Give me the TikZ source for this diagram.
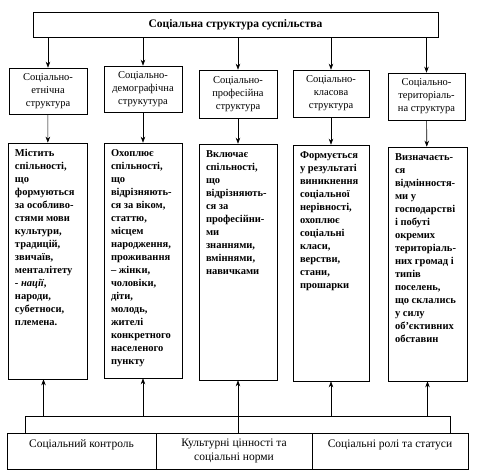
\documentclass[tikz,border=0pt]{standalone}
\usepackage{fontspec}
\setmainfont{Liberation Serif}
\usetikzlibrary{arrows.meta,positioning}

\begin{document}
\begin{tikzpicture}
[x=1pt, y=-1pt, draw=black, line width=0.6pt, >={Stealth[length=6pt,width=4.5pt]},
whole/.style={rectangle, draw, inner sep=0pt, minimum width=405pt, minimum height=25pt, font=\fontsize{11.5}{13}\selectfont\bfseries},
kind/.style={rectangle, draw, inner sep=0pt, align=center, font=\fontsize{10.5}{13}\selectfont},
detail/.style={rectangle, draw, inner sep=0pt},
detailtext/.style={anchor=north west, inner sep=0pt, align=left, font=\fontsize{10.5}{13}\selectfont\bfseries},
factor/.style={rectangle, draw, inner sep=0pt, minimum height=36pt, align=center, font=\fontsize{11.5}{14}\selectfont}]

\useasboundingbox (0,0) rectangle (477,476);

\node[whole] (society) at (235.5,24.5) {Соціальна структура суспільства};

% structure kinds
\node[kind, minimum width=78pt, minimum height=46pt] (ethnic) at (48,91) {Соціально-\\етнічна\\структура}
  edge [<-] (society.south -| ethnic.north);
\node[kind, minimum width=78pt, minimum height=46pt] (demo) at (143,89) {Соціально-\\демографічна\\струкутура}
  edge [<-] (society.south -| demo.north);
\node[kind, minimum width=78pt, minimum height=48pt] (prof) at (238,94) {Соціально-\\професійна\\структура}
  edge [<-] (society.south -| prof.north);
\node[kind, minimum width=76pt, minimum height=47pt] (class) at (331,93.5) {Соціально-\\класова\\структура}
  edge [<-] (society.south -| class.north);
\node[kind, minimum width=77pt, minimum height=47pt] (terr) at (426.5,96.5) {Соціально-\\територіаль-\\на структура}
  edge [<-] (society.south -| terr.north);

% descriptions
\node[detail, minimum width=79pt, minimum height=236pt] (ethnicd) at (47.5,261) {}
  edge [<-] (ethnic);
\node[detailtext] (ethnict) at ([xshift=7pt,yshift=-6.5pt]ethnicd.north west)
  {Містить\\спільності,\\що\\формуються\\за особливо-\\стями мови\\культури,\\традицій,\\звичаїв,\\менталітету\\- \textit{нації},\\народи,\\субетноси,\\племена.};
\node[detail, minimum width=78pt, minimum height=235pt] (demod) at (143,260.5) {}
  edge [<-] (demo);
\node[detailtext] (demot) at ([xshift=7pt,yshift=-6.5pt]demod.north west)
  {Охоплює\\спільності,\\що\\відрізняють-\\ся за віком,\\статтю,\\місцем\\народження,\\проживання\\– жінки,\\чоловіки,\\діти,\\молодь,\\жителі\\конкретного\\населеного\\пункту};
\node[detail, minimum width=78pt, minimum height=236pt] (profd) at (238,262) {}
  edge [<-] (prof);
\node[detailtext] (proft) at ([xshift=7pt,yshift=-6.5pt]profd.north west)
  {Включає\\спільності,\\що\\відрізняють-\\ся за\\професійни-\\ми\\знаннями,\\вміннями,\\навичками};
\node[detail, minimum width=76pt, minimum height=236pt] (classd) at (331,263) {}
  edge [<-] (class);
\node[detailtext] (classt) at ([xshift=7pt,yshift=-6.5pt]classd.north west)
  {Формується\\у результаті\\виникнення\\соціальної\\нерівності,\\охоплює\\соціальні\\класи,\\верстви,\\стани,\\прошарки};
\node[detail, minimum width=79pt, minimum height=234pt] (terrd) at (427.5,264) {}
  edge [<-] (terr);
\node[detailtext] (terrt) at ([xshift=7pt,yshift=-6.5pt]terrd.north west)
  {Визначаєть-\\ся\\відмінностя-\\ми у\\господарстві\\і побуті\\окремих\\територіаль-\\них громад і\\типів\\поселень,\\що склались\\у силу\\об'єктивних\\обставин};

% regulating factors
\node[factor, minimum width=149pt, text depth=14pt] (control) at (81.5,451) {Соціальний контроль};
\node[factor, minimum width=156pt] (values) at (234,451) {Культурні цінності та\\соціальні норми};
\node[factor, minimum width=156pt, text depth=14pt] (roles) at (390,451) {Соціальні ролі та статуси};

\coordinate (busL) at (25,416);
\coordinate (busR) at (450,416);
\draw (busL) -- (busR);
\draw (busL) -- (busL |- control.north);
\draw (busR) -- (busR |- roles.north);
\draw[->] ([xshift=-4pt]busL -| ethnicd.south) -- ([xshift=-4pt]ethnicd.south);
\draw[->] (busL -| demod.south) -- (demod.south);
\draw[->] (values.north -| profd.south) -- (profd.south);
\draw[->] (busL -| classd.south) -- (classd.south);
\draw[->] (busL -| terrd.south) -- (terrd.south);
\end{tikzpicture}
\end{document}
